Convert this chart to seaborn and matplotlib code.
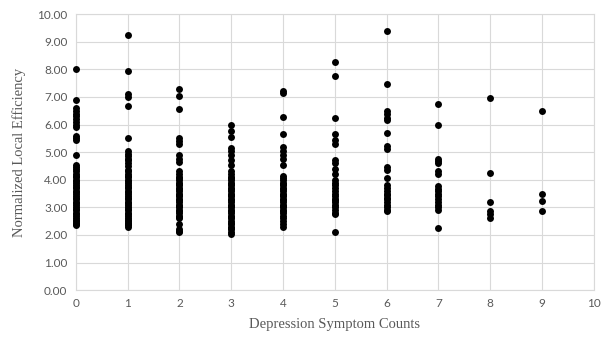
import pandas as pd
import matplotlib
matplotlib.use("Agg")
import matplotlib.pyplot as plt
import seaborn as sns

# valores, por contagem de sintomas
c0 = [8.0, 6.88, 6.6, 6.5, 6.4, 6.3, 6.2, 6.1, 6.0, 5.9, 5.6, 5.5, 5.45, 4.9,
      4.55, 4.45, 4.4, 4.3, 4.2, 4.15, 4.1, 4.0, 3.95, 3.9, 3.8, 3.75, 3.7, 3.6,
      3.55, 3.5, 3.4, 3.35, 3.3, 3.2, 3.15, 3.1, 3.0, 2.95, 2.9, 2.8, 2.75, 2.7,
      2.6, 2.55, 2.5, 2.45, 2.4, 2.35]
c1 = [9.25, 7.95, 7.12, 7.0, 6.67, 5.5, 5.05, 4.95, 4.85, 4.75, 4.7, 4.6, 4.5,
      4.35, 4.3, 4.2, 4.15, 4.1, 4.0, 3.95, 3.9, 3.8, 3.75, 3.7, 3.6, 3.55, 3.5,
      3.4, 3.35, 3.3, 3.2, 3.15, 3.1, 3.0, 2.95, 2.9, 2.8, 2.75, 2.7, 2.6, 2.55,
      2.5, 2.45, 2.4, 2.35, 2.3]
c2 = [7.3, 7.03, 6.58, 5.5, 5.42, 5.3, 4.9, 4.75, 4.65, 4.3, 4.2, 4.1, 4.05,
      4.0, 3.9, 3.85, 3.8, 3.7, 3.65, 3.6, 3.5, 3.45, 3.4, 3.3, 3.25, 3.2, 3.1,
      3.05, 3.0, 2.9, 2.85, 2.8, 2.7, 2.65, 2.6, 2.4, 2.2, 2.15, 2.1]
c3 = [6.0, 5.75, 5.55, 5.15, 5.05, 4.9, 4.7, 4.55, 4.3, 4.2, 4.1, 4.05, 4.0,
      3.9, 3.85, 3.8, 3.7, 3.65, 3.6, 3.5, 3.45, 3.4, 3.3, 3.25, 3.2, 3.1,
      3.05, 3.0, 2.9, 2.85, 2.8, 2.7, 2.65, 2.6, 2.5, 2.45, 2.4, 2.3, 2.25, 2.2,
      2.1, 2.05]
c4 = [7.22, 7.15, 6.28, 5.64, 5.2, 5.05, 4.9, 4.75, 4.55, 4.15, 4.05, 4.0, 3.9,
      3.85, 3.8, 3.7, 3.65, 3.6, 3.5, 3.45, 3.4, 3.3, 3.25, 3.2, 3.1, 3.05,
      3.0, 2.9, 2.85, 2.8, 2.7, 2.6, 2.5, 2.4, 2.3]
c5 = [8.25, 7.77, 6.22, 5.64, 5.45, 5.3, 4.7, 4.6, 4.4, 4.2, 4.0, 3.9, 3.8, 3.7,
      3.6, 3.5, 3.4, 3.3, 3.25, 3.2, 3.1, 3.0, 2.9, 2.8, 2.75, 2.1]
c6 = [9.4, 7.46, 6.49, 6.38, 6.25, 6.15, 5.68, 5.23, 5.1, 4.47, 4.37, 4.07,
      3.8, 3.7, 3.6, 3.5, 3.45, 3.35, 3.3, 3.2, 3.1, 3.0, 2.9, 2.85]
c7 = [6.73, 6.0, 4.77, 4.68, 4.6, 4.3, 4.2, 3.77, 3.68, 3.6, 3.5, 3.4, 3.3,
      3.2, 3.1, 3.0, 2.92, 2.26]
c8 = [6.98, 4.23, 3.2, 2.87, 2.75, 2.6]
c9 = [6.5, 3.47, 3.22, 2.86]

colunas = [c0, c1, c2, c3, c4, c5, c6, c7, c8, c9]
df = pd.DataFrame(
    [(i, v) for i, col in enumerate(colunas) for v in col],
    columns=["sintomas", "eficiencia"],
)

sns.set_style("white")
fig, ax = plt.subplots(figsize=(6.06, 3.37), dpi=100)
fig.subplots_adjust(left=0.125, right=0.980, top=0.958, bottom=0.139)

sns.scatterplot(data=df, x="sintomas", y="eficiencia", color="black",
                s=25, edgecolor="black", linewidth=0, ax=ax, zorder=3,
                clip_on=False)

ax.set_xlim(0, 10)
ax.set_ylim(0, 10)
ax.set_xticks(range(0, 11))
ax.set_yticks(range(0, 11))
ax.set_yticklabels([f"{v:.2f}" for v in range(0, 11)])
ax.grid(True, color="#d9d9d9", linewidth=0.8, zorder=0)
ax.set_axisbelow(True)
for s in ax.spines.values():
    s.set_color("#d9d9d9")
    s.set_linewidth(0.8)

ax.tick_params(axis="both", length=0, labelsize=8.5, labelcolor="#595959", pad=6)
for lab in ax.get_xticklabels() + ax.get_yticklabels():
    lab.set_family("Lato")

ax.set_xlabel("Depression Symptom Counts", family="Liberation Serif",
              fontsize=10.5, color="#595959", labelpad=6)
ax.set_ylabel("Normalized Local Efficiency", family="Liberation Serif",
              fontsize=10.5, color="#595959", labelpad=8)

fig.savefig("out.png", dpi=100)
